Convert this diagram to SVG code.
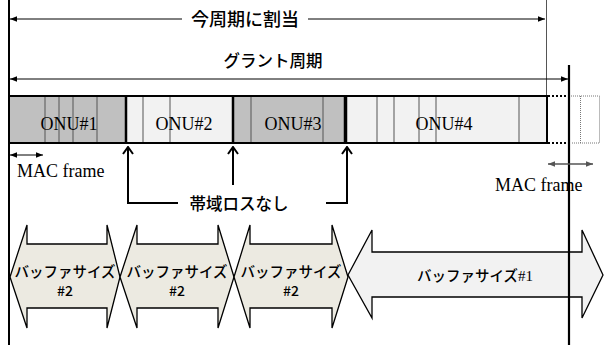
<svg xmlns="http://www.w3.org/2000/svg" width="605" height="352" viewBox="0 0 605 352">
<style>
.jp{font-family:"Noto Sans CJK JP","Noto Sans",sans-serif;font-weight:500;fill:#000}
.sr{font-family:"Liberation Serif","Times New Roman",serif;fill:#000}
.thin{stroke:#555;stroke-width:1;fill:none}
.blk{stroke:#000;fill:none}
.barr{stroke:#000;stroke-width:1.3}
</style>
<defs>
<marker id="ah" viewBox="0 0 10 10" refX="10" refY="5" markerWidth="7" markerHeight="7" markerUnits="userSpaceOnUse" orient="auto-start-reverse"><path d="M0,1 L10,5 L0,9 Z" fill="#000"/></marker>
<marker id="ahg" viewBox="0 0 10 10" refX="10" refY="5" markerWidth="7" markerHeight="7" markerUnits="userSpaceOnUse" orient="auto-start-reverse"><path d="M0,1 L10,5 L0,9 Z" fill="#555"/></marker>
<marker id="up" viewBox="0 0 10 12" refX="9" refY="6" markerWidth="10" markerHeight="12" markerUnits="userSpaceOnUse" orient="auto"><path d="M2,1 L9,6 L2,11" fill="none" stroke="#000" stroke-width="2"/></marker>
</defs>

<g id="guides">
<line x1="9" y1="0" x2="9" y2="345" stroke="#000" stroke-width="2"/>
<line x1="546.5" y1="0" x2="546.5" y2="96" stroke="#555" stroke-width="1"/>
</g>

<g id="onu1">
<rect x="9" y="96" width="117" height="47" fill="#c0c0c0"/>
<line class="thin" x1="45" y1="96" x2="45" y2="143"/>
<line class="thin" x1="59" y1="96" x2="59" y2="143"/>
<line class="thin" x1="73" y1="96" x2="73" y2="143"/>
<line class="thin" x1="97" y1="96" x2="97" y2="143"/>
<text class="sr" x="69" y="130" font-size="18" text-anchor="middle">ONU#1</text>
</g>
<g id="onu2">
<rect x="126" y="96" width="107" height="47" fill="#f2f2f2"/>
<line class="thin" x1="143" y1="96" x2="143" y2="143"/>
<line class="thin" x1="170" y1="96" x2="170" y2="143"/>
<text class="sr" x="184" y="130" font-size="18" text-anchor="middle">ONU#2</text>
</g>
<g id="onu3">
<rect x="233" y="96" width="112" height="47" fill="#c0c0c0"/>
<line class="thin" x1="251" y1="96" x2="251" y2="143"/>
<line class="thin" x1="323" y1="96" x2="323" y2="143"/>
<text class="sr" x="293" y="130" font-size="18" text-anchor="middle">ONU#3</text>
</g>
<g id="onu4">
<rect x="345" y="96" width="202" height="47" fill="#f2f2f2"/>
<line class="thin" x1="377" y1="96" x2="377" y2="143"/>
<line class="thin" x1="394" y1="96" x2="394" y2="143"/>
<line class="thin" x1="419" y1="96" x2="419" y2="143"/>
<line class="thin" x1="436" y1="96" x2="436" y2="143"/>
<line class="thin" x1="519" y1="96" x2="519" y2="143"/>
<text class="sr" x="444" y="130" font-size="18" text-anchor="middle">ONU#4</text>
</g>
<g id="bar-outline">
<rect x="9" y="96" width="538" height="47" fill="none" stroke="#000" stroke-width="2"/>
<line x1="126" y1="96" x2="126" y2="143" stroke="#000" stroke-width="2.5"/>
<line x1="233" y1="96" x2="233" y2="143" stroke="#000" stroke-width="2.5"/>
<line x1="345.5" y1="96" x2="345.5" y2="143" stroke="#000" stroke-width="3.5"/>
</g>
<g id="next-frame">
<line x1="548" y1="96" x2="571" y2="96" stroke="#000" stroke-width="2" stroke-dasharray="2,2"/>
<line x1="548" y1="143" x2="571" y2="143" stroke="#000" stroke-width="2" stroke-dasharray="2,2"/>
<path d="M571,96 H599.5 V143 H571 M580.5,96 V143" fill="none" stroke="#777" stroke-width="1" stroke-dasharray="1,1"/>
</g>

<g id="buf1">
<path class="barr" fill="#eceae1" d="M10,277 L27,225 L27,244 L107,244 L107,225 L120,277 L107,328 L107,308 L27,308 L27,328 Z"/>
<text class="jp" x="65" y="277" font-size="14.5" text-anchor="middle">バッファサイズ</text>
<text class="jp" x="65" y="296" font-size="14" text-anchor="middle">#2</text>
</g>
<g id="buf2">
<path class="barr" fill="#eceae1" d="M120,277 L137,225 L137,244 L218,244 L218,225 L234,277 L218,328 L218,308 L137,308 L137,328 Z"/>
<text class="jp" x="177" y="277" font-size="14.5" text-anchor="middle">バッファサイズ</text>
<text class="jp" x="177" y="296" font-size="14" text-anchor="middle">#2</text>
</g>
<g id="buf3">
<path class="barr" fill="#eceae1" d="M234,277 L250,225 L250,244 L332,244 L332,225 L348,277 L332,328 L332,308 L250,308 L250,328 Z"/>
<text class="jp" x="291" y="277" font-size="14.5" text-anchor="middle">バッファサイズ</text>
<text class="jp" x="291" y="296" font-size="14" text-anchor="middle">#2</text>
</g>
<g id="buf4">
<path class="barr" fill="#f2f2f2" d="M348,275 L372,230 L372,252 L582,252 L582,230 L603,275 L582,318 L582,297 L372,297 L372,318 Z"/>
<text x="475" y="281" font-size="14.5" text-anchor="middle"><tspan class="jp">バッファサイズ</tspan><tspan class="sr" font-size="15">#1</tspan></text>
</g>

<g id="connectors">
<line x1="569" y1="65" x2="569" y2="345" stroke="#000" stroke-width="2.2"/>
<line x1="10" y1="19" x2="182" y2="19" stroke="#000" stroke-width="1" marker-start="url(#ah)"/>
<line x1="308" y1="19" x2="545" y2="19" stroke="#000" stroke-width="1" marker-end="url(#ah)"/>
<line x1="10" y1="79" x2="568" y2="79" stroke="#000" stroke-width="1" marker-start="url(#ah)" marker-end="url(#ah)"/>
<line x1="10" y1="155" x2="43" y2="155" stroke="#000" stroke-width="1" marker-start="url(#ah)" marker-end="url(#ah)"/>
<line x1="548" y1="164" x2="593" y2="164" stroke="#555" stroke-width="1.5" marker-start="url(#ahg)" marker-end="url(#ahg)"/>
<path class="blk" stroke-width="2" d="M178,203 H128 V147" marker-end="url(#up)"/>
<path class="blk" stroke-width="2" d="M233,185 V147" marker-end="url(#up)"/>
<path class="blk" stroke-width="2" d="M326,203 H347 V147" marker-end="url(#up)"/>
</g>

<g id="labels">
<text class="jp" x="245" y="25.5" font-size="18" text-anchor="middle">今周期に割当</text>
<text class="jp" x="273" y="67" font-size="16.5" text-anchor="middle">グラント周期</text>
<text class="sr" x="17" y="177" font-size="18">MAC frame</text>
<text class="sr" x="495" y="191" font-size="18">MAC frame</text>
<text class="jp" x="239" y="210" font-size="16.5" text-anchor="middle">帯域ロスなし</text>
</g>
</svg>
